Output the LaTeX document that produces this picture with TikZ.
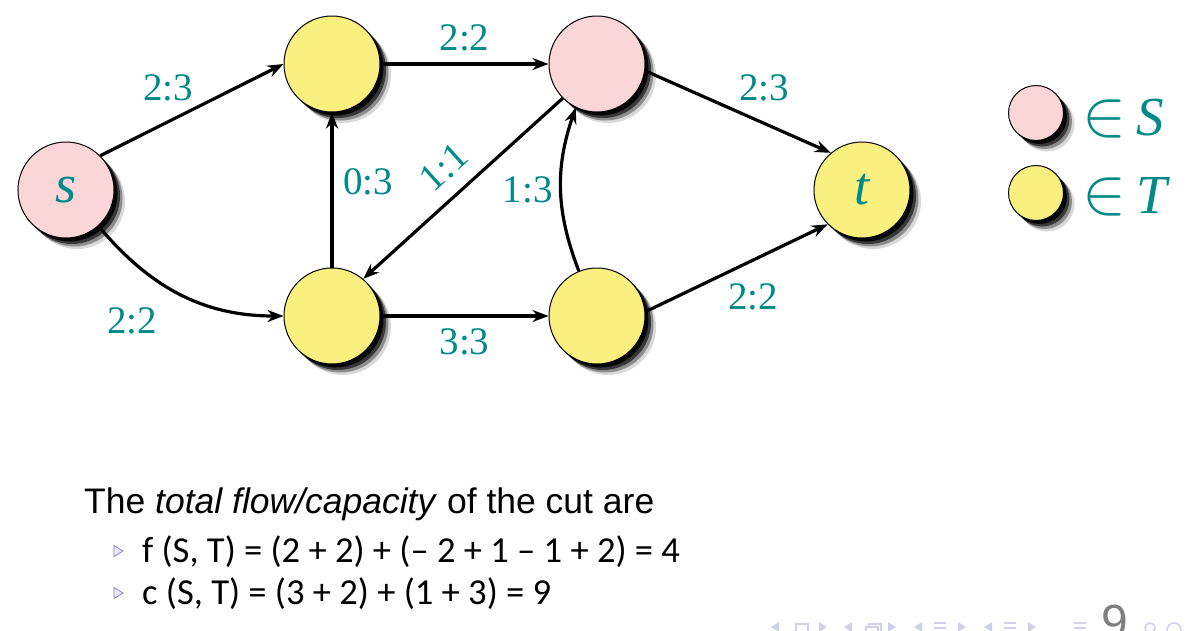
\RequirePackage{fix-cm}
\documentclass[tikz,border=0pt]{standalone}
\usepackage{fontspec}
\setmainfont{Liberation Serif}
\newfontfamily\slidefont{Liberation Sans}
\newfontfamily\bulletfont{Carlito}
\usepackage{tikz}
\usetikzlibrary{positioning, arrows.meta, shadows}
\definecolor{flowteal}{RGB}{0,138,138}
\definecolor{inS}{RGB}{251,214,216}
\definecolor{inT}{RGB}{249,240,128}
\definecolor{navblue}{RGB}{208,208,236}
\definecolor{bulletblue}{RGB}{130,130,210}
\tikzset{>={Stealth[length=16pt,width=12pt]}, node distance = 2cm}
\tikzset{
    deepshadow/.style={drop shadow={shadow xshift=11pt, shadow yshift=-11pt, opacity=.15, fill=black},
                       drop shadow={shadow xshift=8.5pt, shadow yshift=-8.5pt, opacity=.35, fill=black},
                       drop shadow={shadow xshift=6pt, shadow yshift=-6pt, opacity=.6, fill=black},
                       drop shadow={shadow xshift=3.5pt, shadow yshift=-3.5pt, opacity=.9, fill=black}},
    vertex/.style={circle, draw=black, line width=1pt, minimum size=96pt, inner sep=0pt, deepshadow,
                   font=\fontsize{54}{54}\selectfont\itshape, text=flowteal},
    pink/.style={vertex, fill=inS},
    yellow/.style={vertex, fill=inT},
    lbl/.style={font=\fontsize{39}{40}\selectfont, text=flowteal, inner sep=2pt},
    flow/.style={->, draw, line width=3.2pt},
    legend/.style={font=\fontsize{55}{60}\selectfont, text=flowteal, inner sep=0pt, anchor=base west},
}
\newcommand{\member}{{\fontsize{66}{66}\selectfont$\in$}\hspace{10pt}}

\begin{document}
\begin{tikzpicture}[x=1pt, y=1pt, on grid, every edge/.style={flow}]
    \useasboundingbox[fill=white] (0,0) rectangle (1186,-630);

    % the network
    \node[pink] (s) at (66,-190) {s};
    \node[yellow] (A) [above right=126pt and 266pt of s] {};
    \node[yellow] (B) [below right=126pt and 266pt of s] {};
    \node[pink] (C) [right=265pt of A] {};
    \node[yellow] (D) [right=265pt of B] {};
    \node[yellow] (t) [below right=126pt and 265pt of C] {t};

    \path (s.45) edge node[lbl, pos=.37, yshift=34pt]{2:3} (A.west)
          (s.-48) edge[out=-50, in=180] node[lbl, pos=.35, xshift=-22pt, yshift=-42pt]{2:2} (B.west)
          (A.east) edge node[lbl, yshift=26pt]{2:2} (C.west)
          (B.north) edge node[lbl, pos=.55, xshift=36pt]{0:3} (A.south)
          (C.225) edge node[lbl, sloped, above=12pt]{1:1} (B.50)
          (D.112) edge[bend left=20] node[lbl, xshift=-33pt]{1:3} (C.244)
          (B.east) edge node[lbl, yshift=-26pt]{3:3} (D.west)
          (C.-8) edge node[lbl, pos=.64, yshift=35pt]{2:3} (t.130)
          (D.5) edge node[lbl, pos=.59, yshift=-37pt]{2:2} (t.225);

    % legend
    \node[pink, minimum size=55pt] (keyS) at (1036,-113) {};
    \node[yellow, minimum size=55pt] (keyT) at (1036,-193) {};
    \node[legend] (keySlbl) at (1082,-135) {\member\textit{S}};
    \node[legend] (keyTlbl) at (1082,-213) {\member\textit{T}};

    % text below
    \node[anchor=base west, inner sep=0pt, font=\slidefont\fontsize{35.5}{40}\selectfont] (cut) at (84,-513)
        {The \textit{total flow/capacity} of the cut are};
    \node[anchor=base west, inner sep=0pt, font=\bulletfont\fontsize{36.6}{40}\selectfont] (flowsum) at (142,-562)
        {f (S, T) = (2 + 2) + (– 2 + 1 – 1 + 2) = 4};
    \node[anchor=base west, inner sep=0pt, font=\bulletfont\fontsize{36.6}{40}\selectfont] (capsum) at (142,-604)
        {c (S, T) = (3 + 2) + (1 + 3) = 9};
    \foreach \y in {551,593}
        \draw[draw=bulletblue, fill=navblue!40, line width=.8pt] (114,-\y) ++(0,5.5) -- ++(9,-5.5) -- ++(-9,-5.5) -- cycle;

    % navigation bar and page number
    \node[anchor=base, inner sep=0pt, text=gray, font=\slidefont\fontsize{48}{48}\selectfont] (pageno) at (1115,-638) {9};
    \foreach \x in {775,848,918,988}
        \fill[navblue] (\x+4,-622) -- (\x-4,-627) -- (\x+4,-632) -- cycle;
    \foreach \x in {823,892,962,1032}
        \fill[navblue] (\x-4,-622) -- (\x+4,-627) -- (\x-4,-632) -- cycle;
    \draw[navblue, line width=1.5pt] (796,-624) rectangle (808,-636);
    \draw[navblue, line width=1.5pt] (866,-627) rectangle (878,-638)
        (869,-627) -- (869,-624) -- (881,-624) -- (881,-634) -- (878,-634);
    \foreach \x in {940,1010,1080}
        \draw[navblue, line width=1.5pt] (\x-6,-623) -- (\x+6,-623) (\x-6,-628) -- (\x+6,-628);
    \draw[navblue, line width=1.5pt] (1150,-628) circle (5pt) (1174,-630) circle (7pt);
\end{tikzpicture}
\end{document}
